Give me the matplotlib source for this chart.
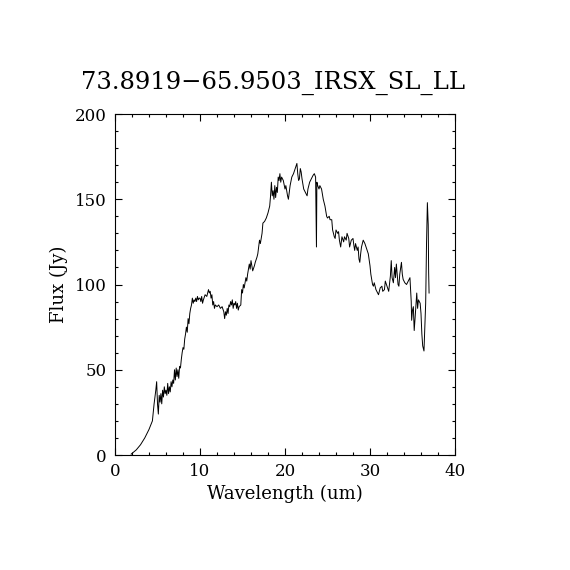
import matplotlib
matplotlib.use('Agg')
import matplotlib.pyplot as plt
from matplotlib.ticker import MultipleLocator

# spectrum
wavelength = [1.9, 2.5, 3.0, 3.5, 4.0, 4.4, 4.6, 4.8, 4.9, 5.0, 5.1, 5.2, 5.3, 5.4, 5.5, 5.6,
              5.7, 5.8, 5.9, 6.0, 6.1, 6.2, 6.3, 6.4, 6.5, 6.6, 6.7, 6.8, 6.9, 7.0, 7.1, 7.2,
              7.3, 7.4, 7.5, 7.6, 7.7, 7.8, 7.9, 8.0, 8.1, 8.2, 8.3, 8.4, 8.5, 8.6, 8.7, 8.8,
              8.9, 9.0, 9.1, 9.2, 9.3, 9.4, 9.5, 9.6, 9.7, 9.8, 9.9, 10.0, 10.1, 10.2, 10.3,
              10.4, 10.6, 10.8, 11.0, 11.1, 11.2, 11.3, 11.4, 11.5, 11.6, 11.7, 11.8, 12.0,
              12.2, 12.4, 12.6, 12.8, 12.9, 13.0, 13.1, 13.2, 13.3, 13.4, 13.5, 13.6, 13.7,
              13.8, 13.9, 14.0, 14.1, 14.2, 14.3, 14.4, 14.5, 14.6, 14.8, 14.9, 15.0, 15.1,
              15.2, 15.4, 15.5, 15.6, 15.8, 15.9, 16.0, 16.2, 16.4, 16.5, 16.7, 16.8, 16.9,
              17.0, 17.1, 17.3, 17.4, 17.6, 17.8, 18.0, 18.2, 18.3, 18.4, 18.5, 18.6, 18.7,
              18.8, 18.9, 19.0, 19.1, 19.2, 19.3, 19.4, 19.5, 19.6, 19.8, 20.0, 20.1, 20.3,
              20.4, 20.6, 20.8, 21.0, 21.2, 21.4, 21.5, 21.6, 21.7, 21.8, 21.9, 22.0, 22.2,
              22.4, 22.6, 22.7, 22.9, 23.1, 23.3, 23.45, 23.6, 23.7, 23.75, 23.85, 24.0,
              24.1, 24.3, 24.5, 24.7, 24.9, 25.0, 25.2, 25.3, 25.5, 25.6, 25.7, 25.8, 25.9,
              26.0, 26.2, 26.3, 26.4, 26.55, 26.7, 26.9, 27.0, 27.2, 27.3, 27.5, 27.6, 27.8,
              28.0, 28.1, 28.2, 28.3, 28.5, 28.6, 28.7, 28.8, 28.9, 29.0, 29.2, 29.4, 29.6,
              29.8, 30.0, 30.1, 30.3, 30.4, 30.5, 30.7, 30.9, 31.0, 31.2, 31.4, 31.5, 31.7,
              31.8, 32.0, 32.2, 32.4, 32.5, 32.6, 32.75, 32.9, 33.0, 33.1, 33.3, 33.4, 33.5,
              33.7, 33.8, 33.9, 34.1, 34.3, 34.5, 34.7, 34.85, 34.9, 35.0, 35.1, 35.2, 35.3,
              35.5, 35.6, 35.7, 35.9, 36.0, 36.1, 36.2, 36.35, 36.45, 36.55, 36.65, 36.75,
              36.85, 36.9, 36.95]
flux = [0.5, 3, 6, 10, 15, 20, 30, 38, 43, 30, 24, 35, 31, 36, 30, 38,
        34, 40, 36, 38, 35, 42, 36, 40, 37, 43, 40, 44, 42, 50, 44, 51,
        46, 50, 45, 52, 51, 56, 60, 63, 62, 68, 71, 75, 72, 80, 77, 83,
        86, 88, 92, 89, 91, 90, 92, 90, 93, 91, 92, 92, 90, 93, 89,
        91, 94, 93, 97, 95, 96, 92, 94, 88, 90, 86, 88, 87,
        88, 86, 87, 84, 80, 84, 82, 86, 83, 88, 87, 90, 88,
        91, 86, 89, 88, 90, 86, 89, 85, 87, 88, 97, 95, 100,
        98, 104, 102, 106, 112, 109, 114, 108, 111, 113, 116, 118, 122,
        126, 124, 130, 136, 137, 139, 142, 146, 152, 160, 152, 155, 150,
        158, 151, 157, 154, 163, 161, 165, 160, 163, 161, 156, 158, 152,
        150, 158, 163, 165, 168, 171, 165, 161, 162, 168, 166, 162, 156,
        154, 152, 156, 160, 162, 164, 165, 163, 122, 160, 158, 156,
        158, 156, 150, 146, 140, 139, 140, 138, 138, 132, 130, 128, 127,
        132, 130, 131, 126, 122, 128, 125, 128, 126, 130, 127, 122, 126,
        127, 123, 120, 124, 120, 122, 115, 113, 118, 122, 126, 124, 121,
        118, 111, 106, 100, 99, 101, 97, 95, 94, 98, 99, 96, 97,
        102, 99, 96, 105, 114, 104, 101, 110, 104, 112, 100, 99, 106,
        113, 106, 103, 101, 100, 102, 104, 90, 79, 85, 87, 73, 80,
        95, 86, 91, 89, 83, 71, 64, 61, 75, 89, 124, 148,
        135, 107, 95]

title = '73.8919\u221265.9503_IRSX_SL_LL'

plt.rcParams['font.family'] = ['DejaVu Serif']

fig = plt.figure(figsize=(5.7, 5.7), dpi=100)
ax = fig.add_axes([115 / 570, 115 / 570, 340 / 570, 341 / 570])

ax.plot(wavelength, flux, color='black', linewidth=0.7)

ax.set_xlim(0, 40)
ax.set_ylim(0, 200)
ax.xaxis.set_major_locator(MultipleLocator(10))
ax.xaxis.set_minor_locator(MultipleLocator(2))
ax.yaxis.set_major_locator(MultipleLocator(50))
ax.yaxis.set_minor_locator(MultipleLocator(10))
ax.tick_params(which='both', direction='in', top=True, right=True, width=0.8,
               labelsize=12, pad=6)
ax.tick_params(which='major', length=5)
ax.tick_params(which='minor', length=2.5)
for s in ax.spines.values():
    s.set_linewidth(0.8)

ax.set_xlabel('Wavelength (um)', fontsize=13, labelpad=3)
ax.set_ylabel('Flux (Jy)', fontsize=13, labelpad=5)
fig.text(273 / 570, 1 - 83 / 570, title, ha='center', va='center', fontsize=17.5)

fig.savefig('out.png', dpi=100, facecolor='white')
